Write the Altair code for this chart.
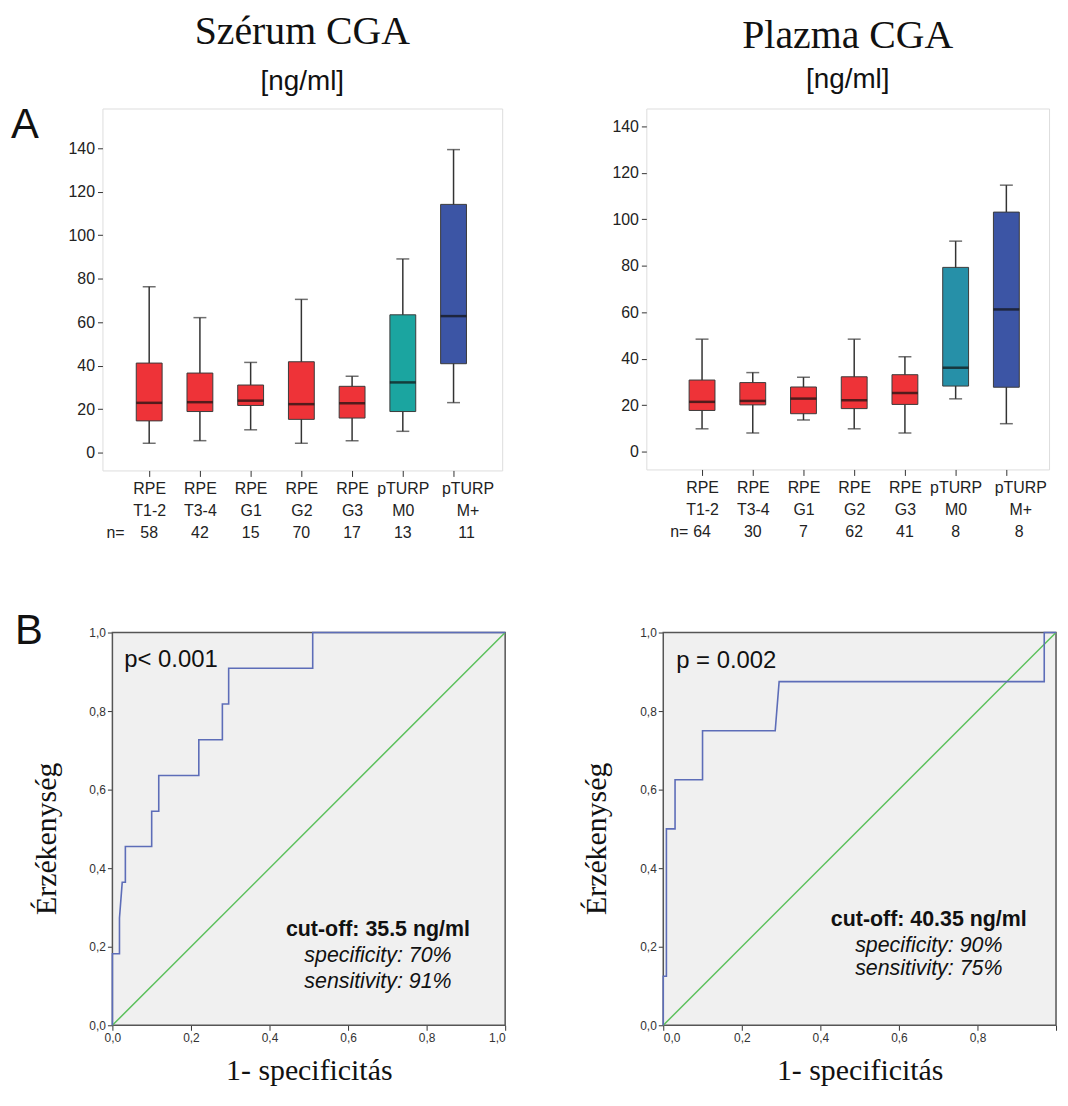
import altair as alt
import pandas as pd

SANS = "Liberation Sans"
SERIF = "Liberation Serif"

groups = ["RPE T1-2", "RPE T3-4", "RPE G1", "RPE G2", "RPE G3", "pTURP M0", "pTURP M+"]
group_cls = ["RPE", "RPE", "RPE", "RPE", "RPE", "M0", "M+"]

# Szérum CGA box statistics (ng/ml)
s_low = [4.3, 5.5, 10.5, 4.3, 5.5, 9.8, 23.0]
s_q1 = [14.6, 18.9, 21.7, 15.3, 15.9, 18.9, 40.9]
s_med = [22.9, 23.2, 23.9, 22.3, 22.7, 32.3, 62.8]
s_q3 = [41.2, 36.6, 31.1, 41.8, 30.5, 63.4, 114.2]
s_high = [76.3, 62.1, 41.5, 70.5, 35.1, 89.1, 139.4]
s_n = [58, 42, 15, 70, 17, 13, 11]

# Plazma CGA box statistics (ng/ml)
p_low = [9.8, 8.0, 13.6, 9.8, 8.0, 22.7, 12.0]
p_q1 = [17.7, 20.1, 16.3, 18.5, 20.3, 28.2, 27.7]
p_med = [21.4, 21.8, 22.8, 22.1, 25.2, 36.1, 61.2]
p_q3 = [30.8, 29.7, 27.8, 32.2, 33.1, 79.3, 103.1]
p_high = [48.4, 34.0, 32.0, 48.4, 40.8, 90.6, 114.7]
p_n = [64, 30, 7, 62, 41, 8, 8]

# ROC curves
roc_s_x = [0, 0, 0.018, 0.018, 0.025, 0.033, 0.033, 0.1, 0.1, 0.118, 0.118, 0.22, 0.22,
           0.28, 0.28, 0.296, 0.296, 0.51, 0.51, 1.0]
roc_s_y = [0, 0.182, 0.182, 0.273, 0.364, 0.364, 0.455, 0.455, 0.545, 0.545, 0.636, 0.636,
           0.727, 0.727, 0.818, 0.818, 0.909, 0.909, 1.0, 1.0]
roc_p_x = [0, 0, 0.008, 0.008, 0.03, 0.03, 0.1, 0.1, 0.285, 0.295, 0.97, 0.97, 1.0]
roc_p_y = [0, 0.125, 0.125, 0.5, 0.5, 0.625, 0.625, 0.75, 0.75, 0.875, 0.875, 1.0, 1.0]

ref_xy = [0, 1]
LAST = "pTURP M+"


def box_panel(low, q1, med, q3, high, n, colors, ydom, width, height, title, pad, align,
              title_offset, sub_pad, n_x, letter=None):
    df = pd.DataFrame({"g": groups, "cls": group_cls, "low": low, "q1": q1, "med": med,
                       "q3": q3, "high": high, "n": [str(v) for v in n]})
    xs = alt.Scale(type="point", padding=pad, align=align)
    xenc = alt.X("g:N", sort=groups, scale=xs, title=None,
                 axis=alt.Axis(labelExpr="split(datum.label, ' ')", labelAngle=0,
                               labelFont=SANS, labelFontSize=16, labelColor="#222",
                               labelLineHeight=22, labelPadding=4, tickSize=6,
                               labelOffset={"expr": "datum.value == '%s' ? 14 : 0" % LAST},
                               tickColor="#333", domain=False, grid=False))
    ys = alt.Scale(domain=ydom, nice=False, zero=False)
    yax = alt.Axis(values=list(range(0, 141, 20)), domain=False, grid=False, tickSize=5,
                   tickColor="#333", labelFont=SANS, labelFontSize=16, labelColor="#222",
                   labelPadding=3, title=None)
    base = alt.Chart(df)
    xg = alt.X("g:N", sort=groups)
    whisk = base.mark_rule(color="#333", strokeWidth=1.5).encode(
        x=xenc, y=alt.Y("low:Q", scale=ys, axis=yax), y2="high:Q")
    cap_lo = base.mark_tick(color="#333", size=13, thickness=1.5).encode(x=xg, y="low:Q")
    cap_hi = base.mark_tick(color="#333", size=13, thickness=1.5).encode(x=xg, y="high:Q")
    box = base.mark_bar(size=26, stroke="#3a3a3a", strokeWidth=1).encode(
        x=xg, y="q1:Q", y2="q3:Q",
        color=alt.Color("cls:N", scale=alt.Scale(domain=["RPE", "M0", "M+"], range=colors),
                        legend=None))
    medt = base.mark_tick(color="#111", size=26, thickness=2.5).encode(x=xg, y="med:Q")
    ntext = base.transform_filter("datum.g != '%s'" % LAST).mark_text(
        font=SANS, fontSize=16, color="#222").encode(
        x=xg, y=alt.value(height + 63), text="n:N")
    ntext_last = base.transform_filter("datum.g == '%s'" % LAST).mark_text(
        font=SANS, fontSize=16, color="#222", dx=13).encode(
        x=xg, y=alt.value(height + 63), text="n:N")
    nlab = alt.Chart(pd.DataFrame({"t": ["n="]})).mark_text(
        font=SANS, fontSize=16, color="#222", align="left").encode(
        x=alt.value(n_x), y=alt.value(height + 63), text="t:N")
    layers = [whisk, cap_lo, cap_hi, box, medt, ntext, ntext_last, nlab]
    if letter:
        layers.append(alt.Chart(pd.DataFrame({"t": [letter]})).mark_text(
            font=SANS, fontSize=42, color="#111", align="left", baseline="middle").encode(
            x=alt.value(-92), y=alt.value(17), text="t:N"))
    return alt.layer(*layers).properties(
        width=width, height=height,
        title=alt.TitleParams(text=title, subtitle="[ng/ml]", font=SERIF, fontSize=40,
                              fontWeight="normal", color="#111", subtitleFont=SANS,
                              subtitleFontSize=28, subtitleColor="#111",
                              subtitlePadding=sub_pad, offset=title_offset, anchor="middle"))


def roc_panel(rx, ry, ann, shift=0.0, width=395, axis_offset=0, letter=None, hide_last=False):
    dfc = pd.DataFrame({"x": rx, "y": ry, "i": list(range(len(rx)))})
    dfr = pd.DataFrame({"x": ref_xy, "y": ref_xy})
    dff = pd.DataFrame({"x0": [0], "x1": [1], "y0": [0], "y1": [1]})
    fmt = "replace(format(datum.value, '.1f'), '.', ',')"
    xfmt = ("datum.value == 1 ? '' : " + fmt) if hide_last else fmt
    xax = alt.Axis(values=[0, 0.2, 0.4, 0.6, 0.8, 1.0], labelExpr=xfmt, domain=False, grid=False,
                   tickSize=5, tickColor="#333", labelFont=SANS, labelFontSize=12,
                   labelColor="#333", labelPadding=2, title="1- specificitás", titleFont=SERIF,
                   titleFontSize=30, titleFontWeight="normal", titleColor="#111",
                   titlePadding=13, titleX=width - 197.5)
    yax = alt.Axis(values=[0, 0.2, 0.4, 0.6, 0.8, 1.0], labelExpr=fmt, domain=False, grid=False,
                   tickSize=5, tickColor="#333", labelFont=SANS, labelFontSize=12,
                   labelColor="#333", labelPadding=2, title="Érzékenység", titleFont=SERIF,
                   titleFontSize=30, titleFontWeight="normal", titleColor="#111",
                   titlePadding=28, titleY=207, offset=axis_offset)
    xs = alt.Scale(domain=[-shift, 1], nice=False, zero=False)
    ys = alt.Scale(domain=[0, 1], nice=False)
    frame = alt.Chart(dff).mark_rect(fill="#F0F0F0", stroke="#555", strokeWidth=1.5).encode(
        x=alt.X("x0:Q", scale=xs, axis=xax), x2="x1:Q",
        y=alt.Y("y0:Q", scale=ys, axis=yax), y2="y1:Q")
    diag = alt.Chart(dfr).mark_line(color="#5CC05C", strokeWidth=1.5).encode(x="x:Q", y="y:Q")
    curve = alt.Chart(dfc).mark_line(color="#5D6DB8", strokeWidth=1.6).encode(
        x="x:Q", y="y:Q", order="i:Q")
    layers = [frame, diag, curve]
    for t, x, y, size, weight, style, align in ann:
        layers.append(alt.Chart(pd.DataFrame({"t": [t], "x": [x], "y": [y]})).mark_text(
            font=SANS, fontSize=size, fontWeight=weight, fontStyle=style, align=align,
            baseline="middle", color="#111").encode(x="x:Q", y="y:Q", text="t:N"))
    if letter:
        layers.append(alt.Chart(pd.DataFrame({"t": [letter]})).mark_text(
            font=SANS, fontSize=42, color="#111", align="left", baseline="middle").encode(
            x=alt.value(-88), y=alt.value(-1), text="t:N"))
    return alt.layer(*layers).properties(
        width=width, height=395,
        view=alt.ViewBackground(stroke="transparent", fill="transparent"))


ann_s = [("p< 0.001", 0.03, 0.93, 24, "normal", "normal", "left"),
         ("cut-off: 35.5 ng/ml", 0.676, 0.243, 21.5, "bold", "normal", "center"),
         ("specificity: 70%", 0.676, 0.177, 21.5, "normal", "italic", "center"),
         ("sensitivity: 91%", 0.676, 0.111, 21.5, "normal", "italic", "center")]
ann_p = [("p = 0.002", 0.033, 0.927, 24, "normal", "normal", "left"),
         ("cut-off: 40.35 ng/ml", 0.676, 0.268, 21.5, "bold", "normal", "center"),
         ("specificity: 90%", 0.676, 0.203, 21.5, "normal", "italic", "center"),
         ("sensitivity: 75%", 0.676, 0.142, 21.5, "normal", "italic", "center")]

box_l = box_panel(s_low, s_q1, s_med, s_q3, s_high, s_n,
                  ["#EE3338", "#1BA5A0", "#3C55A5"], [-8.2, 158.3], 402, 364,
                  "Szérum CGA", 0.94, 0.49, 9, 16, 4, letter="A")
box_r = box_panel(p_low, p_q1, p_med, p_q3, p_high, p_n,
                  ["#EE3338", "#2690A8", "#3C55A5"], [-7.7, 147.7], 405, 363,
                  "Plazma CGA", 0.97, 0.566, 15, 10, 24)

roc_l = roc_panel(roc_s_x, roc_s_y, ann_s, shift=10 / 395, width=405, axis_offset=-10,
                  letter="B")
roc_r = roc_panel(roc_p_x, roc_p_y, ann_p, hide_last=True)

row1 = alt.hconcat(box_l, box_r, spacing=108).resolve_scale(color="independent")
row2 = alt.hconcat(roc_l, roc_r, spacing=72)

chart = alt.vconcat(row1, row2, spacing=68).properties(
    padding={"left": 2, "top": 0, "right": 0, "bottom": 0}
).configure_view(fill="#F0F0F0", stroke="#555", strokeWidth=1.5).configure(
    background="white")

chart.save("out.html", embed_options={"renderer": "svg", "actions": False})
